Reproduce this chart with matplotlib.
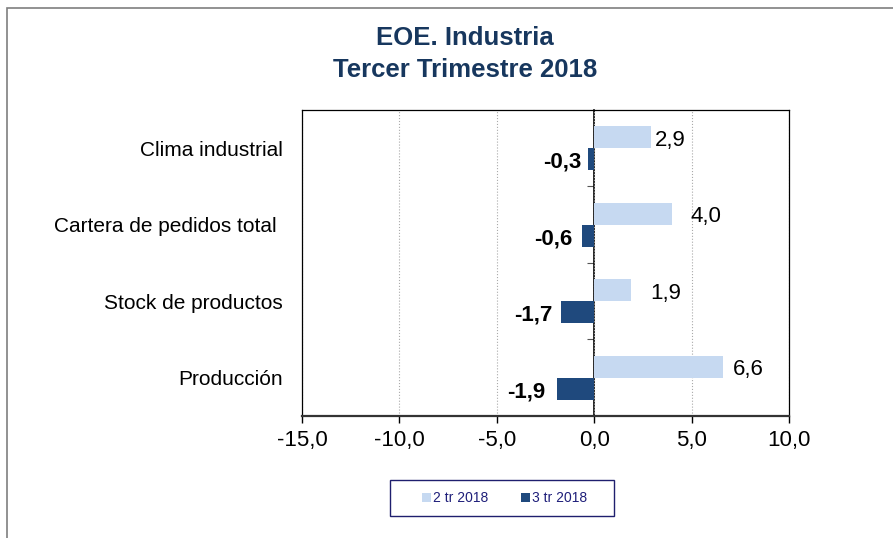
import matplotlib.pyplot as plt
import matplotlib.patches as patches
from matplotlib.ticker import FuncFormatter
import numpy as np

plt.rcParams['font.family'] = ['Liberation Sans', 'DejaVu Sans']

categories = ["Clima industrial", "Cartera de pedidos total ", "Stock de productos", "Producción"]
serie_2tr = [2.9, 4.0, 1.9, 6.6]
serie_3tr = [-0.3, -0.6, -1.7, -1.9]
series_names = ["2 tr 2018", "3 tr 2018"]
title = "EOE. Industria\nTercer Trimestre 2018"

# label offsets in pixels (hand-placed like in the original)
off_2tr = [4, 18, 19, 10]
off_3tr = [7, 10, 9, 12]

light = "#C6D9F1"
dark = "#1F497D"
navy = "#17375E"


def fmt(v):
    return f"{v:.1f}".replace(".", ",")


fig = plt.figure(figsize=(8.93, 5.38), dpi=100)
ax = fig.add_axes([0.3382, 0.2268, 0.5453, 0.5688])

n = len(categories)
ypos = np.arange(n)[::-1].astype(float)
h = 0.29
ax.barh(ypos + 0.145, serie_2tr, height=h, color=light, label=series_names[0], zorder=3)
ax.barh(ypos - 0.145, serie_3tr, height=h, color=dark, label=series_names[1], zorder=3)

for y, v, o in zip(ypos, serie_2tr, off_2tr):
    ax.annotate(fmt(v), (v, y + 0.145), xytext=(o, -3), textcoords='offset pixels',
                ha='left', va='center', fontsize=16)
for y, v, o in zip(ypos, serie_3tr, off_3tr):
    ax.annotate(fmt(v), (v, y - 0.145), xytext=(-o, -3), textcoords='offset pixels',
                ha='right', va='center', fontsize=16, fontweight='bold')

ax.set_xlim(-15, 10)
ax.set_ylim(-0.5, n - 0.5)
ax.set_xticks(np.arange(-15, 11, 5))
ax.xaxis.set_major_formatter(FuncFormatter(lambda v, p: fmt(v)))
ax.tick_params(axis='x', labelsize=16, direction='out', length=5, width=1, pad=5)
ax.set_yticks(ypos)
ax.set_yticklabels(categories)
ax.tick_params(axis='y', length=0, labelsize=15, pad=14)

ax.grid(axis='x', color='#AAAAAA', linestyle=':', linewidth=0.8, zorder=0)
for s in ax.spines.values():
    s.set_color('black')
    s.set_linewidth(0.9)
ax.spines['bottom'].set_linewidth(1.6)
ax.spines['bottom'].set_color('#333333')

# category axis crossing at zero
zero_ax = ax.secondary_yaxis(0, transform=ax.transData)
zero_ax.set_yticks(np.arange(0.5, n - 1, 1.0))
zero_ax.set_yticklabels([])
zero_ax.tick_params(direction='out', length=5, color='#555555')
zero_ax.spines['left'].set_color('black')
zero_ax.spines['left'].set_linewidth(1.2)

fig.text(0.521, 0.9, title, ha='center', va='center', fontsize=18.5,
         fontweight='bold', color=navy, linespacing=1.45)

leg = fig.legend(loc='center', bbox_to_anchor=(0.565, 0.074), ncol=2, fontsize=10,
                 frameon=False, handlelength=0.65, handleheight=0.65, handletextpad=0.15,
                 columnspacing=2.3)
for t in leg.get_texts():
    t.set_color('#1F1F7A')
# legend box
fig.patches.append(patches.Rectangle((390 / 893, 1 - 516 / 538), 224 / 893, 36 / 538,
                                     transform=fig.transFigure, fill=False,
                                     edgecolor='#1F1F6E', linewidth=1.0))

# outer chart-area border
fig.patches.append(patches.Rectangle((0.008, -0.1), 1.2, 1.085, transform=fig.transFigure,
                                     fill=False, edgecolor='#7F7F7F', linewidth=1.2))

fig.savefig("out.png", dpi=100)
